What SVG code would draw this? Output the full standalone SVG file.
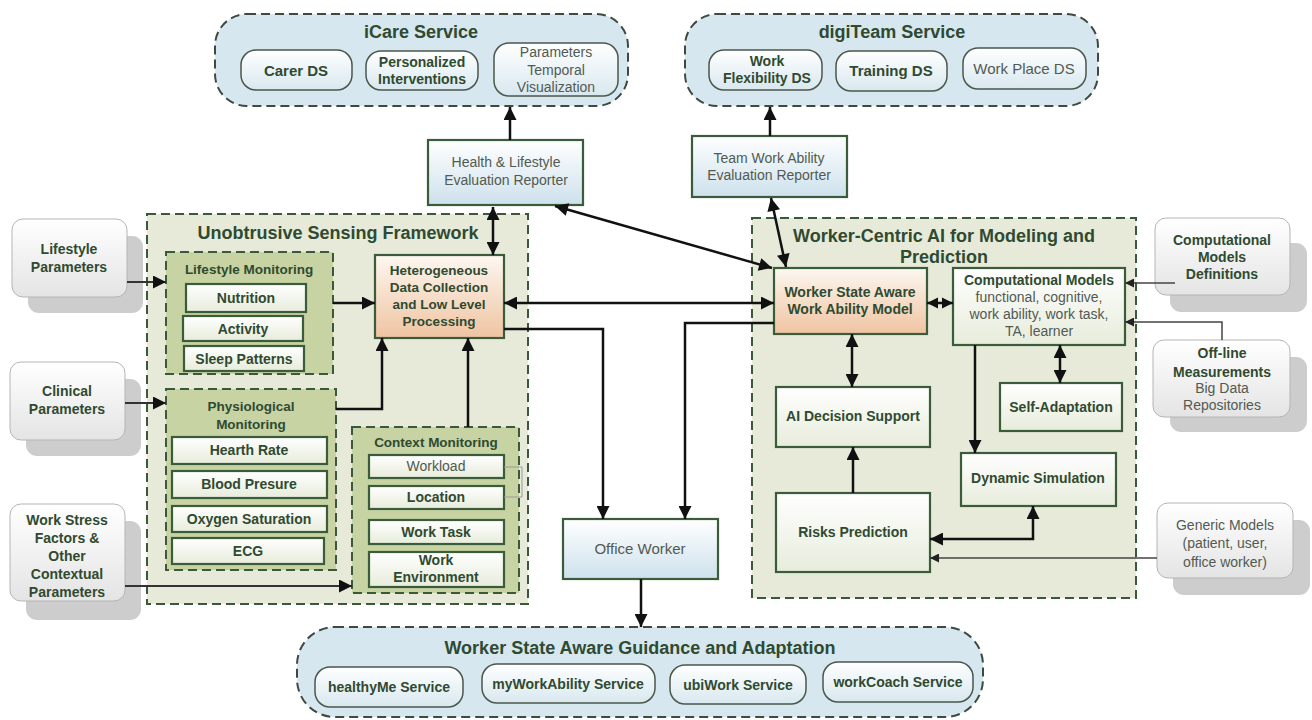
<svg xmlns="http://www.w3.org/2000/svg" width="1312" height="720" viewBox="0 0 1312 720">
<defs>
<linearGradient id="gLeaf" x1="0" y1="0" x2="0" y2="1"><stop offset="0" stop-color="#ffffff"/><stop offset="1" stop-color="#e7ecdb"/></linearGradient>
<linearGradient id="gPeach" x1="0" y1="0" x2="0" y2="1"><stop offset="0" stop-color="#fdf7f1"/><stop offset="1" stop-color="#efc4a1"/></linearGradient>
<linearGradient id="gBlueBox" x1="0" y1="0" x2="0" y2="1"><stop offset="0" stop-color="#ffffff"/><stop offset="1" stop-color="#cde1ec"/></linearGradient>
<linearGradient id="gPill" x1="0" y1="0" x2="0" y2="1"><stop offset="0" stop-color="#ffffff"/><stop offset="1" stop-color="#d8e8ef"/></linearGradient>
<linearGradient id="gInput" x1="0" y1="0" x2="0" y2="1"><stop offset="0" stop-color="#ffffff"/><stop offset="1" stop-color="#e4e4e4"/></linearGradient>
<marker id="ah" viewBox="0 0 10 10" refX="10" refY="5" markerUnits="userSpaceOnUse" markerWidth="14" markerHeight="13" orient="auto-start-reverse"><path d="M0,0 L10,5 L0,10 z" fill="#111"/></marker>
<marker id="am" viewBox="0 0 10 10" refX="10" refY="5" markerUnits="userSpaceOnUse" markerWidth="11" markerHeight="12" orient="auto-start-reverse"><path d="M0,0 L10,5 L0,10 z" fill="#111"/></marker>
<marker id="as" viewBox="0 0 10 10" refX="10" refY="5" markerUnits="userSpaceOnUse" markerWidth="9" markerHeight="9" orient="auto-start-reverse"><path d="M0,0 L10,5 L0,10 z" fill="#222"/></marker>
<style>
.svc{fill:#d6e7ef;stroke:#3e4a40;stroke-width:2;stroke-dasharray:9 5}
.pill{fill:url(#gPill);stroke:#4b574b;stroke-width:1.5}
.frame{fill:#e7ead9;stroke:#3b583b;stroke-width:2;stroke-dasharray:9 5}
.mon{fill:#c8d3a3;stroke:#3b583b;stroke-width:2;stroke-dasharray:9 5}
.leaf{fill:url(#gLeaf);stroke:#3b5c3b;stroke-width:2.2}
.peach{fill:url(#gPeach);stroke:#3b5c3b;stroke-width:2.2}
.bbox{fill:url(#gBlueBox);stroke:#3b5c3b;stroke-width:2.2}
.inp{fill:url(#gInput);stroke:#b5b5b5;stroke-width:1}
.shd{fill:#cdcdcd}
text{font-family:"Liberation Sans",Arial,sans-serif;text-anchor:middle}
.t{font-weight:bold;fill:#2f4a30}
.g{fill:#525a52}
.big{font-size:18px;font-weight:bold;fill:#2f4a30}
.s14{font-size:14px}
.s13{font-size:13.5px}
.c{fill:none;stroke:#111;stroke-width:2.5}
.ci{fill:none;stroke:#333;stroke-width:2}
.cs{fill:none;stroke:#444;stroke-width:1.5}
.br{fill:none;stroke:#9a9a9a;stroke-width:1}
</style>
</defs>
<rect width="1312" height="720" fill="#ffffff"/>

<g id="icare">
<rect class="svc" x="215" y="14" width="413" height="92" rx="32"/>
<text class="big" x="421" y="38">iCare Service</text>
<rect class="pill" x="241" y="50" width="111" height="40" rx="15"/>
<text class="t" x="296" y="76" font-size="15">Carer DS</text>
<rect class="pill" x="366" y="51" width="112" height="39" rx="15"/>
<text class="t s14" x="422" y="67">Personalized</text>
<text class="t s14" x="422" y="84">Interventions</text>
<rect class="pill" x="494" y="43" width="124" height="53" rx="15"/>
<text class="g s14" x="556" y="57">Parameters</text>
<text class="g s14" x="556" y="75">Temporal</text>
<text class="g s14" x="556" y="92">Visualization</text>
</g>

<g id="digiteam">
<rect class="svc" x="685" y="14" width="413" height="92" rx="32"/>
<text class="big" x="892" y="38">digiTeam Service</text>
<rect class="pill" x="709" y="50" width="113" height="40" rx="15"/>
<text class="t s14" x="767" y="66">Work</text>
<text class="t s14" x="767" y="83">Flexibility DS</text>
<rect class="pill" x="836" y="51" width="111" height="40" rx="15"/>
<text class="t" x="891" y="76" font-size="15">Training DS</text>
<rect class="pill" x="963" y="48" width="123" height="41" rx="15"/>
<text class="g" x="1024" y="74" font-size="15">Work Place DS</text>
</g>

<g id="health-reporter">
<rect class="bbox" x="428" y="140" width="155" height="65"/>
<text class="g s14" x="506" y="167">Health &amp; Lifestyle</text>
<text class="g s14" x="506" y="185">Evaluation Reporter</text>
</g>

<g id="team-reporter">
<rect class="bbox" x="692" y="136" width="155" height="61"/>
<text class="g s14" x="769" y="163">Team Work Ability</text>
<text class="g s14" x="769" y="180">Evaluation Reporter</text>
</g>

<g id="lifestyle-params">
<rect class="shd" x="28" y="236" width="115" height="77" rx="11"/>
<rect class="inp" x="12" y="219" width="115" height="78" rx="11"/>
<text class="t s14" x="69" y="254">Lifestyle</text>
<text class="t s14" x="69" y="272">Parameters</text>
</g>

<g id="clinical-params">
<rect class="shd" x="26" y="379" width="115" height="77" rx="11"/>
<rect class="inp" x="10" y="362" width="115" height="78" rx="11"/>
<text class="t s14" x="67" y="396">Clinical</text>
<text class="t s14" x="67" y="414">Parameters</text>
</g>

<g id="workstress-params">
<rect class="shd" x="26" y="521" width="115" height="99" rx="11"/>
<rect class="inp" x="10" y="504" width="115" height="97" rx="11"/>
<text class="t s14" x="67" y="525">Work Stress</text>
<text class="t s14" x="67" y="543">Factors &amp;</text>
<text class="t s14" x="67" y="561">Other</text>
<text class="t s14" x="67" y="579">Contextual</text>
<text class="t s14" x="67" y="597">Parameters</text>
</g>

<g id="sensing-framework">
<rect class="frame" x="147" y="214" width="381" height="390"/>
<text class="big" x="338" y="239" font-size="17.5">Unobtrusive Sensing Framework</text>
</g>

<g id="lifestyle-monitoring">
<rect class="mon" x="166" y="252" width="167" height="122"/>
<text class="t s13" x="249" y="274">Lifestyle Monitoring</text>
<rect class="leaf" x="186" y="284" width="120" height="28"/>
<text class="t s14" x="246" y="303">Nutrition</text>
<rect class="leaf" x="183" y="316" width="120" height="25"/>
<text class="t s14" x="243" y="334">Activity</text>
<rect class="leaf" x="184" y="346" width="120" height="25"/>
<text class="t s14" x="244" y="364">Sleep Patterns</text>
</g>

<g id="physiological-monitoring">
<rect class="mon" x="166" y="389" width="170" height="181"/>
<text class="t s13" x="251" y="411">Physiological</text>
<text class="t s13" x="251" y="429">Monitoring</text>
<rect class="leaf" x="172" y="437" width="155" height="27"/>
<text class="t s14" x="249" y="455">Hearth Rate</text>
<rect class="leaf" x="172" y="471" width="155" height="27"/>
<text class="t s14" x="249" y="489">Blood Presure</text>
<rect class="leaf" x="172" y="506" width="155" height="26"/>
<text class="t s14" x="249" y="524">Oxygen Saturation</text>
<rect class="leaf" x="172" y="538" width="152" height="26"/>
<text class="t s14" x="248" y="556">ECG</text>
</g>

<g id="context-monitoring">
<rect class="mon" x="352" y="427" width="167" height="166"/>
<text class="t s13" x="436" y="447">Context Monitoring</text>
<rect class="leaf" x="369" y="455" width="135" height="23"/>
<text class="g s14" x="436" y="471">Workload</text>
<rect class="leaf" x="369" y="486" width="135" height="23"/>
<text class="t s14" x="436" y="502">Location</text>
<rect class="leaf" x="369" y="520" width="135" height="24"/>
<text class="t s14" x="436" y="537">Work Task</text>
<rect class="leaf" x="369" y="552" width="135" height="35"/>
<text class="t s14" x="436" y="565">Work</text>
<text class="t s14" x="436" y="582">Environment</text>
<path class="br" d="M504,467 H522 V497 H504"/>
</g>

<g id="heterogeneous">
<rect class="peach" x="375" y="255" width="129" height="83"/>
<text class="t s13" x="439" y="275">Heterogeneous</text>
<text class="t s13" x="439" y="292">Data Collection</text>
<text class="t s13" x="439" y="309">and Low Level</text>
<text class="t s13" x="439" y="326">Processing</text>
</g>

<g id="office-worker">
<rect class="bbox" x="563" y="519" width="155" height="60"/>
<text class="g" x="640" y="554" font-size="15">Office Worker</text>
</g>

<g id="ai-framework">
<rect class="frame" x="752" y="218" width="384" height="380"/>
<text class="big" x="944" y="242" font-size="17.5">Worker-Centric AI for Modeling and</text>
<text class="big" x="944" y="263" font-size="17.5">Prediction</text>
</g>

<g id="worker-state-model">
<rect class="peach" x="774" y="268" width="153" height="66"/>
<text class="t s14" x="850" y="297">Worker State Aware</text>
<text class="t s14" x="850" y="314">Work Ability Model</text>
</g>

<g id="computational-models">
<rect class="leaf" x="953" y="268" width="172" height="77"/>
<text class="t s14" x="1039" y="285">Computational Models</text>
<text class="g s14" x="1039" y="302">functional, cognitive,</text>
<text class="g s14" x="1039" y="319">work ability, work task,</text>
<text class="g s14" x="1039" y="336">TA, learner</text>
</g>

<g id="ai-decision">
<rect class="leaf" x="776" y="387" width="154" height="60"/>
<text class="t s14" x="853" y="421">AI Decision Support</text>
</g>

<g id="self-adaptation">
<rect class="leaf" x="1000" y="383" width="122" height="48"/>
<text class="t s14" x="1061" y="412">Self-Adaptation</text>
</g>

<g id="dynamic-simulation">
<rect class="leaf" x="961" y="453" width="155" height="53"/>
<text class="t s14" x="1038" y="483">Dynamic Simulation</text>
</g>

<g id="risks-prediction">
<rect class="leaf" x="776" y="493" width="154" height="79"/>
<text class="t s14" x="853" y="537">Risks Prediction</text>
</g>

<g id="comp-defs">
<rect class="shd" x="1170" y="243" width="137" height="69" rx="11"/>
<rect class="inp" x="1155" y="218" width="135" height="77" rx="11"/>
<text class="t s14" x="1222" y="245">Computational</text>
<text class="t s14" x="1222" y="262">Models</text>
<text class="t s14" x="1222" y="279">Definitions</text>
</g>

<g id="offline">
<rect class="shd" x="1170" y="357" width="137" height="75" rx="11"/>
<rect class="inp" x="1153" y="340" width="137" height="77" rx="11"/>
<text class="t s14" x="1222" y="358">Off-line</text>
<text class="t s14" x="1222" y="377">Measurements</text>
<text class="g s14" x="1222" y="393">Big  Data</text>
<text class="g s14" x="1222" y="410">Repositories</text>
</g>

<g id="generic-models">
<rect class="shd" x="1173" y="520" width="137" height="75" rx="11"/>
<rect class="inp" x="1157" y="503" width="136" height="75" rx="11"/>
<text class="g s14" x="1225" y="530">Generic Models</text>
<text class="g s14" x="1225" y="548">(patient, user,</text>
<text class="g s14" x="1225" y="567">office worker)</text>
</g>

<g id="guidance">
<rect class="svc" x="297" y="627" width="686" height="90" rx="38"/>
<text class="big" x="640" y="654" font-size="19">Worker State Aware Guidance and Adaptation</text>
<rect class="pill" x="315" y="667" width="148" height="40" rx="15"/>
<text class="t s14" x="389" y="692">healthyMe Service</text>
<rect class="pill" x="482" y="664" width="173" height="39" rx="15"/>
<text class="t s14" x="568" y="689">myWorkAbility Service</text>
<rect class="pill" x="670" y="665" width="136" height="39" rx="15"/>
<text class="t s14" x="738" y="690">ubiWork Service</text>
<rect class="pill" x="823" y="662" width="150" height="40" rx="15"/>
<text class="t s14" x="898" y="687">workCoach Service</text>
</g>

<g id="connectors">
<path class="c" d="M510,140 V107" marker-end="url(#ah)"/>
<path class="c" d="M770,136 V107" marker-end="url(#ah)"/>
<path class="c" d="M493,207 V255" marker-start="url(#ah)" marker-end="url(#ah)"/>
<path class="c" d="M555,206 L772,268" marker-start="url(#ah)" marker-end="url(#ah)"/>
<path class="c" d="M771,198 L786,267" marker-start="url(#ah)" marker-end="url(#ah)"/>
<path class="ci" d="M127,282 H166" marker-end="url(#ah)"/>
<path class="ci" d="M125,403 H166" marker-end="url(#ah)"/>
<path class="ci" d="M125,586 H352" marker-end="url(#ah)"/>
<path class="c" d="M333,303 H375" marker-end="url(#ah)"/>
<path class="c" d="M336,409 H382 V338" marker-end="url(#ah)"/>
<path class="c" d="M468,427 V338" marker-end="url(#ah)"/>
<path class="c" d="M504,303 H774" marker-start="url(#ah)" marker-end="url(#ah)"/>
<path class="c" d="M504,329 H603 V519" marker-end="url(#ah)"/>
<path class="c" d="M774,323 H685 V519" marker-end="url(#ah)"/>
<path class="c" d="M641,579 V627" marker-end="url(#ah)"/>
<path class="c" d="M927,303 H953" marker-start="url(#am)" marker-end="url(#am)"/>
<path class="c" d="M852,334 V387" marker-start="url(#ah)" marker-end="url(#ah)"/>
<path class="c" d="M1060,345 V383" marker-start="url(#ah)" marker-end="url(#ah)"/>
<path class="c" d="M975,345 V453" marker-end="url(#ah)"/>
<path class="c" d="M853,493 V447" marker-end="url(#ah)"/>
<path class="c" d="M930,539 H1033 V506" marker-start="url(#ah)" marker-end="url(#ah)"/>
<path class="cs" d="M1175,283 H1125" marker-end="url(#as)"/>
<path class="cs" d="M1222,340 V322 H1125" marker-end="url(#as)"/>
<path class="cs" d="M1157,558 H930" marker-end="url(#as)"/>
</g>
</svg>
